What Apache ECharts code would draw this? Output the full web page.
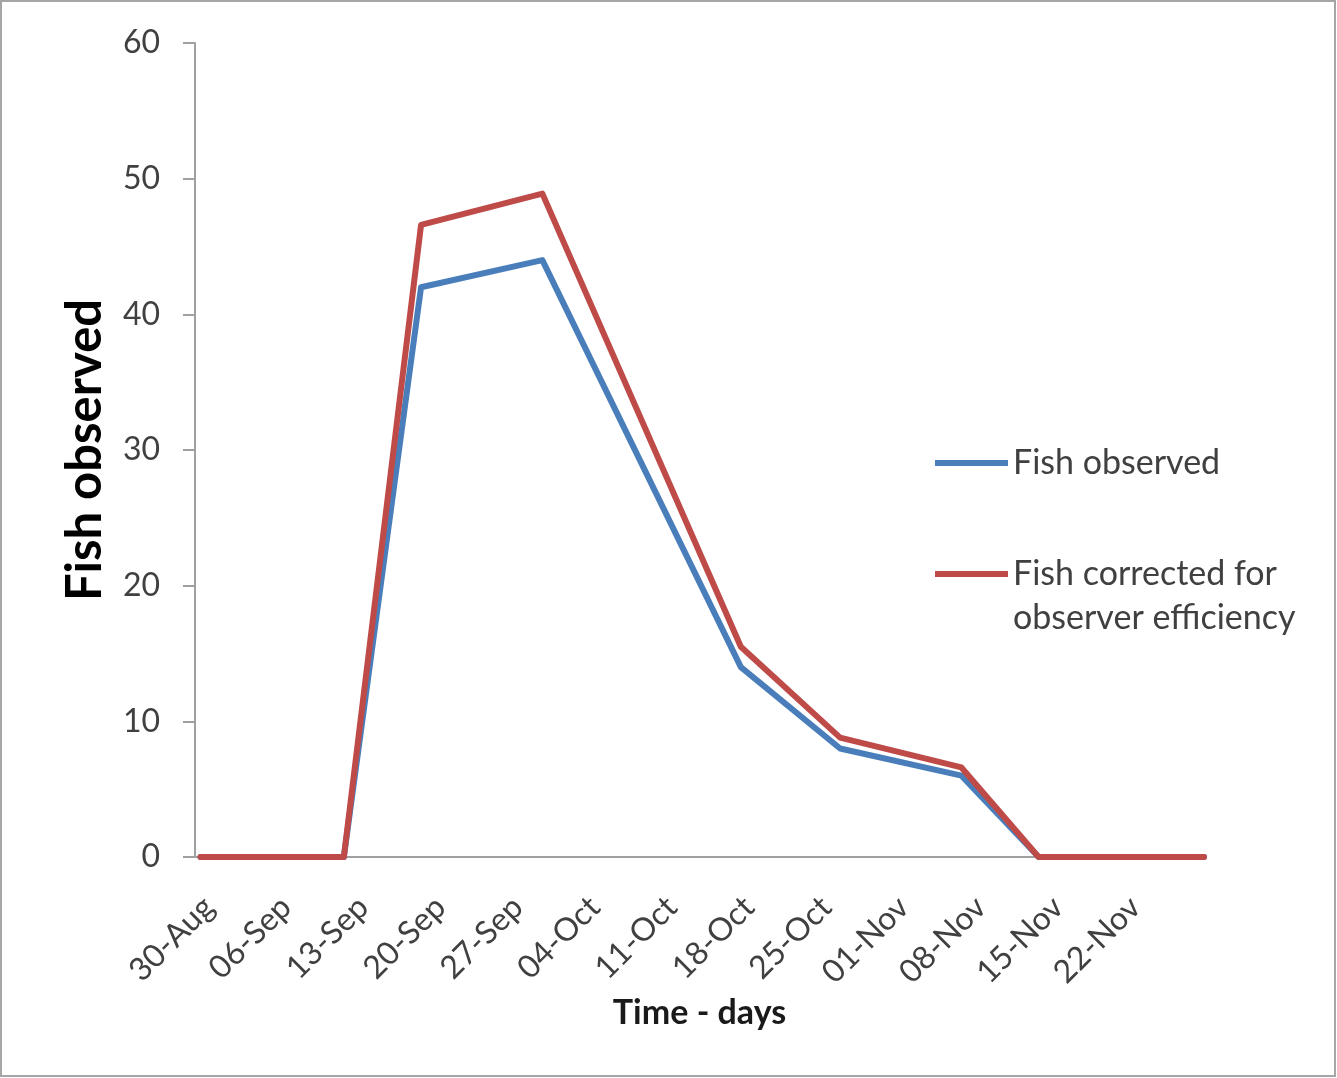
<!DOCTYPE html>
<html>
<head>
<meta charset="utf-8">
<script src="https://cdn.jsdelivr.net/npm/echarts@6/dist/echarts.min.js"></script>
<style>
html,body{margin:0;padding:0;background:#fff;}
#chart{width:1337px;height:1078px;}
</style>
</head>
<body>
<div id="chart"></div>
<script>
// ---- data ----
const baseDate = '2013-08-30';
const dates = ['2013-08-31','2013-09-13','2013-09-20','2013-10-01','2013-10-19','2013-10-28','2013-11-08','2013-11-15','2013-11-30'];
const fishObserved = [0, 0, 42, 44, 14, 8, 6, 0, 0];
const fishCorrected = [0, 0, 46.6, 48.9, 15.5, 8.8, 6.6, 0, 0];
const xTickLabels = ['30-Aug','06-Sep','13-Sep','20-Sep','27-Sep','04-Oct','11-Oct','18-Oct','25-Oct','01-Nov','08-Nov','15-Nov','22-Nov'];
const seriesNames = ['Fish observed', 'Fish corrected for\nobserver efficiency'];
const yMin = 0, yMax = 60, yStep = 10;

const DAY = 86400000;
const dayOf = d => (Date.parse(d) - Date.parse(baseDate)) / DAY;
const labelShift = 1.75; // label anchor offset in days

const chart = echarts.init(document.getElementById('chart'));
const font = 'Lato, "Open Sans", sans-serif';
chart.setOption({
  animation: false,
  backgroundColor: '#fff',
  graphic: [{
    type: 'rect', silent: true, z: -10,
    shape: {x: 1, y: 1, width: 1334, height: 1075},
    style: {fill: 'none', stroke: '#a6a6a6', lineWidth: 2}
  }],
  grid: {left: 195, right: 133, top: 43, bottom: 221, containLabel: false},
  legend: {
    orient: 'vertical',
    left: 935, top: 441,
    padding: 0,
    itemGap: 23,
    icon: 'rect',
    itemWidth: 73, itemHeight: 6,
    textStyle: {fontFamily: font, fontSize: 34, color: '#404040', lineHeight: 44},
    formatter: name => name.indexOf('\n') >= 0 ? ' \n' + name : name,
    data: seriesNames
  },
  xAxis: {
    type: 'value',
    min: 0.5, max: 92, interval: 0.25,
    splitLine: {show: false},
    axisTick: {show: false},
    axisLine: {lineStyle: {color: '#a0a0a0', width: 2}},
    axisLabel: {
      rotate: 45, margin: 45,
      fontFamily: font, fontSize: 32, color: '#404040',
      formatter: v => {
        const k = (v - labelShift) / 7;
        return Number.isInteger(k) && xTickLabels[k] ? xTickLabels[k] : '';
      }
    },
    name: 'Time - days',
    nameLocation: 'middle',
    nameGap: 129,
    nameTextStyle: {fontFamily: font, fontSize: 34, fontWeight: 'bold', color: '#1a1a1a'}
  },
  yAxis: {
    type: 'value',
    min: yMin, max: yMax, interval: yStep,
    splitLine: {show: false},
    axisTick: {show: true, length: 12, lineStyle: {color: '#a0a0a0', width: 2}},
    axisLine: {show: true, lineStyle: {color: '#a0a0a0', width: 2}},
    axisLabel: {margin: 35, fontFamily: font, fontSize: 32, color: '#404040'},
    name: 'Fish observed',
    nameLocation: 'middle',
    nameGap: 85,
    nameTextStyle: {fontFamily: font, fontSize: 49, fontWeight: 'bold', color: '#000'}
  },
  series: [
    {
      name: seriesNames[0], type: 'line', symbol: 'none',
      data: dates.map((d, i) => [dayOf(d), fishObserved[i]]),
      lineStyle: {color: '#4A7EBB', width: 6, cap: 'round', join: 'round'},
      itemStyle: {color: '#4A7EBB'}
    },
    {
      name: seriesNames[1], type: 'line', symbol: 'none',
      data: dates.map((d, i) => [dayOf(d), fishCorrected[i]]),
      lineStyle: {color: '#BE4B48', width: 6, cap: 'round', join: 'round'},
      itemStyle: {color: '#BE4B48'}
    }
  ]
});
</script>
</body>
</html>
